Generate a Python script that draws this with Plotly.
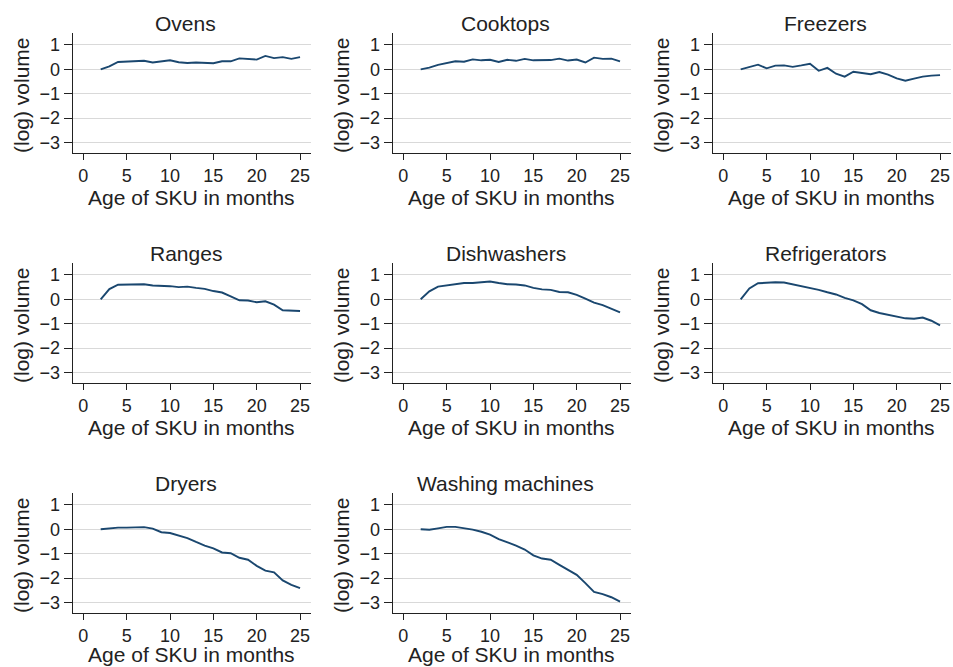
import plotly.graph_objects as go

ages = list(range(2, 26))
titles = ["Ovens", "Cooktops", "Freezers", "Ranges", "Dishwashers",
          "Refrigerators", "Dryers", "Washing machines"]

ovens = [0, 0.12, 0.30, 0.31, 0.35, 0.35, 0.28, 0.32, 0.37, 0.29, 0.26, 0.28,
         0.27, 0.25, 0.33, 0.33, 0.45, 0.44, 0.40, 0.55, 0.46, 0.50, 0.43, 0.50]
cooktops = [0, 0.07, 0.18, 0.24, 0.33, 0.31, 0.41, 0.37, 0.39, 0.30, 0.39, 0.35,
            0.43, 0.37, 0.37, 0.38, 0.44, 0.36, 0.40, 0.28, 0.48, 0.43, 0.44, 0.33]
freezers = [0, 0.09, 0.19, 0.04, 0.15, 0.16, 0.10, 0.16, 0.23, -0.06, 0.06, -0.18,
            -0.30, -0.10, -0.15, -0.20, -0.11, -0.22, -0.37, -0.47, -0.38, -0.30, -0.26, -0.24]
ranges_ = [0, 0.42, 0.60, 0.60, 0.59, 0.62, 0.57, 0.56, 0.54, 0.50, 0.52, 0.47,
           0.43, 0.34, 0.28, 0.12, -0.04, -0.05, -0.12, -0.08, -0.22, -0.45, -0.47, -0.48]
dishwashers = [0, 0.33, 0.52, 0.58, 0.63, 0.67, 0.67, 0.70, 0.73, 0.67, 0.62, 0.61,
               0.57, 0.47, 0.41, 0.39, 0.30, 0.29, 0.18, 0.03, -0.14, -0.24, -0.39, -0.54]
refrigerators = [0, 0.45, 0.66, 0.69, 0.70, 0.69, 0.62, 0.56, 0.47, 0.39, 0.29, 0.20,
                 0.06, -0.04, -0.20, -0.45, -0.56, -0.64, -0.73, -0.78, -0.80, -0.75, -0.88, -1.07]
dryers = [0, 0.05, 0.07, 0.07, 0.09, 0.09, 0.03, -0.12, -0.15, -0.25, -0.36, -0.52,
          -0.67, -0.78, -0.95, -0.98, -1.17, -1.25, -1.50, -1.70, -1.77, -2.10, -2.28, -2.42]
washing = [0, -0.02, 0.04, 0.10, 0.10, 0.06, -0.01, -0.10, -0.22, -0.40, -0.52, -0.67,
           -0.83, -1.07, -1.20, -1.25, -1.46, -1.66, -1.87, -2.21, -2.57, -2.66, -2.79, -2.97]

series = [ovens, cooktops, freezers, ranges_, dishwashers, refrigerators, dryers, washing]

x_ticks = [0, 5, 10, 15, 20, 25]
y_ticks = [-3, -2, -1, 0, 1]
y_tick_text = ["\u22123", "\u22122", "\u22121", "0", "1"]

W, H = 953, 667
FONT = "Liberation Sans, Arial, Helvetica, sans-serif"
LINE = "#1a476f"

fig = go.Figure()
annotations = []
for i, (name, vals) in enumerate(zip(titles, series)):
    r, c = divmod(i, 3)
    left = 72.7 + 320 * c
    right = 310.7 + 320 * c
    top = 33.3 + 230 * r
    bottom = 153.3 + 230 * r
    xa = "xaxis" if i == 0 else f"xaxis{i+1}"
    ya = "yaxis" if i == 0 else f"yaxis{i+1}"
    xr = "x" if i == 0 else f"x{i+1}"
    yr = "y" if i == 0 else f"y{i+1}"
    fig.add_trace(go.Scatter(x=ages, y=vals, mode="lines", xaxis=xr, yaxis=yr,
                             line=dict(color=LINE, width=1.9), showlegend=False))
    fig.update_layout(**{
        xa: dict(domain=[left / W, right / W], anchor=yr, range=[-1.23, 26.23],
                 tickvals=x_ticks, showgrid=False, zeroline=False,
                 showline=True, linecolor="#222", linewidth=1.2,
                 ticks="outside", ticklen=6, tickcolor="#222", tickwidth=1.2,
                 tickfont=dict(size=18, color="#222", family=FONT)),
        ya: dict(domain=[1 - bottom / H, 1 - top / H], anchor=xr, range=[-3.45, 1.48],
                 tickvals=y_ticks, ticktext=y_tick_text, showgrid=True,
                 gridcolor="#d9d9d9", gridwidth=1.3, zeroline=False,
                 showline=True, linecolor="#222", linewidth=1.2,
                 ticks="outside", ticklen=8, tickcolor="#222", tickwidth=1.2,
                 tickfont=dict(size=18, color="#222", family=FONT)),
    })
    cx = (left + right) / 2
    title_off = 44 if r < 2 else 41
    annotations.append(dict(text=name, x=cx / W - 0.006, y=1 - (top - 10) / H,
                            xref="paper", yref="paper", showarrow=False,
                            xanchor="center", yanchor="middle",
                            font=dict(size=21, color="#222", family=FONT)))
    annotations.append(dict(text="Age of SKU in months", x=cx / W, y=1 - (bottom + title_off) / H,
                            xref="paper", yref="paper", showarrow=False,
                            xanchor="center", yanchor="middle",
                            font=dict(size=21, color="#222", family=FONT)))
    annotations.append(dict(text="(log) volume", x=(left - 51) / W, y=1 - ((top + bottom) / 2 + 2) / H,
                            xref="paper", yref="paper", showarrow=False, textangle=-90,
                            xanchor="center", yanchor="middle",
                            font=dict(size=21, color="#222", family=FONT)))

fig.update_layout(width=W, height=H, margin=dict(l=0, r=0, t=0, b=0),
                  paper_bgcolor="white", plot_bgcolor="white",
                  annotations=annotations, font=dict(family=FONT))

fig.write_html("out.html", config={"displayModeBar": False},
               post_script="document.body.style.margin='0';document.body.style.overflow='hidden';")
